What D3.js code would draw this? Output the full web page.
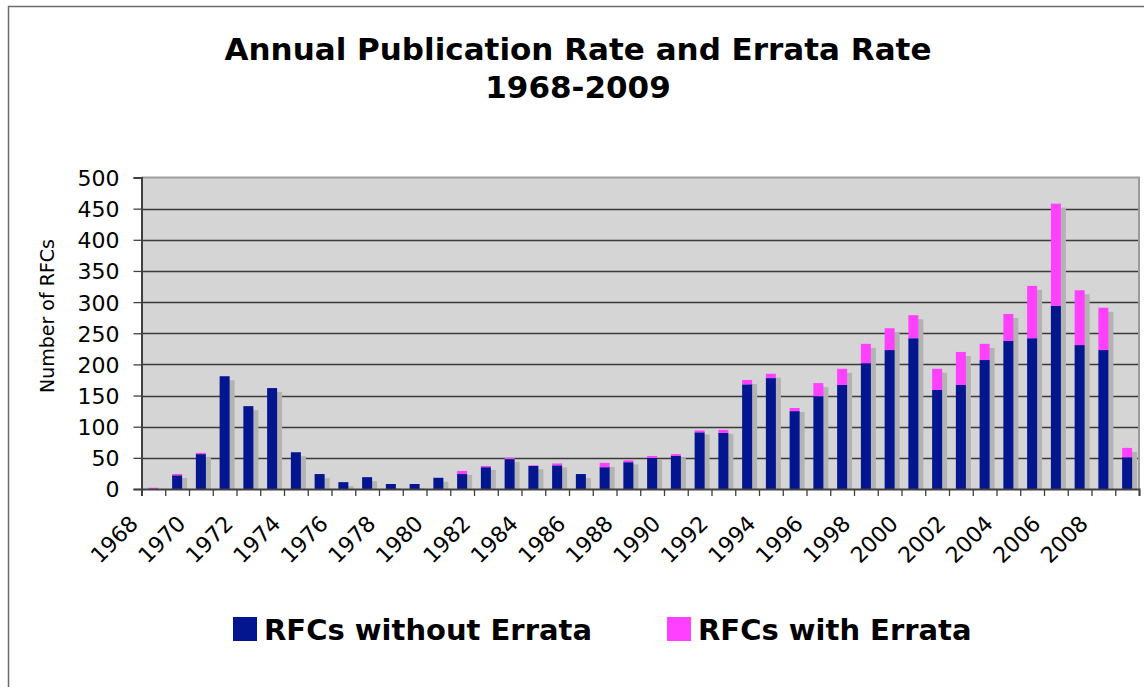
<!DOCTYPE html>
<html lang="en">
<head>
<meta charset="utf-8">
<script src="https://cdnjs.cloudflare.com/ajax/libs/d3/7.8.5/d3.min.js"></script>
<style>
  body { margin: 0; background: #fff; }
  text { font-family: "DejaVu Sans", Verdana, sans-serif; }
</style>
</head>
<body>
<script>

// RFCs per year, split into those without and with errata
var years = [1968, 1969, 1970, 1971, 1972, 1973, 1974, 1975, 1976, 1977,
             1978, 1979, 1980, 1981, 1982, 1983, 1984, 1985, 1986, 1987,
             1988, 1989, 1990, 1991, 1992, 1993, 1994, 1995, 1996, 1997,
             1998, 1999, 2000, 2001, 2002, 2003, 2004, 2005, 2006, 2007,
             2008, 2009];
var withoutErrata = [0, 22, 56, 181, 133, 162, 59, 24, 11, 19,
                     8, 8, 18, 24, 35, 48, 37, 38, 24, 35,
                     43, 50, 53, 91, 90, 168, 178, 125, 149, 167,
                     202, 223, 242, 159, 167, 207, 238, 242, 294, 231,
                     223, 51];
var withErrata = [2, 2, 2, 0, 0, 0, 0, 0, 0, 0,
                  0, 0, 0, 5, 2, 2, 1, 3, 0, 7,
                  3, 3, 3, 3, 5, 7, 7, 5, 21, 26,
                  31, 35, 37, 34, 53, 26, 43, 84, 164, 88,
                  68, 15];
var yTicks = [0, 50, 100, 150, 200, 250, 300, 350, 400, 450, 500];
var seriesNames = ["RFCs without Errata", "RFCs with Errata"];
var colors = ["#041590", "#ff40ff"];

var W = 1144, H = 687;
var plot = {left: 141.5, right: 1139, top: 177.5, bottom: 489};

var svg = d3.select("body").append("svg")
    .attr("width", W)
    .attr("height", H);

// chart frame
svg.append("rect")
    .attr("x", 8.5).attr("y", 6.5)
    .attr("width", W + 20).attr("height", H + 20)
    .attr("fill", "#fff")
    .attr("stroke", "#6a6a6a")
    .attr("stroke-width", 1.5);

// title
var title = svg.append("text")
    .attr("text-anchor", "middle")
    .style("font-weight", "bold")
    .style("font-size", "31px");
title.append("tspan").attr("x", 578).attr("y", 60).text("Annual Publication Rate and Errata Rate");
title.append("tspan").attr("x", 578).attr("y", 98).text("1968-2009");

var x = d3.scaleBand()
    .domain(years)
    .range([plot.left, plot.right])
    .padding(0);

// boundaries between categories, for the tick marks
var xEdge = d3.scaleLinear()
    .domain([0, years.length])
    .range([plot.left, plot.right]);

var y = d3.scaleLinear()
    .domain([0, 500])
    .range([plot.bottom, plot.top]);

var data = years.map(function(yr, i) {
  return {year: yr, without: withoutErrata[i], with: withErrata[i]};
});
var stack = d3.stack().keys(["without", "with"]);
var layers = stack(data);

// plot background
svg.append("rect")
    .attr("x", plot.left).attr("y", plot.top)
    .attr("width", plot.right - plot.left)
    .attr("height", plot.bottom - plot.top)
    .attr("fill", "#d5d5d5");

// gridlines
svg.append("g")
    .selectAll("line")
    .data(yTicks.slice(1, -1))
    .enter().append("line")
    .attr("x1", plot.left).attr("x2", plot.right)
    .attr("y1", function(d) { return Math.round(y(d)) + 0.5; })
    .attr("y2", function(d) { return Math.round(y(d)) + 0.5; })
    .attr("stroke", "#3a3a3a")
    .attr("stroke-width", 1.3);

svg.append("defs").append("clipPath")
    .attr("id", "clip")
  .append("rect")
    .attr("x", plot.left).attr("y", plot.top)
    .attr("width", plot.right - plot.left)
    .attr("height", plot.bottom - plot.top);

var barW = 10;
var barOff = (x.bandwidth() - barW) / 2;

// drop shadows behind the stacked bars
svg.append("g")
    .attr("clip-path", "url(#clip)")
    .selectAll("rect")
    .data(data)
    .enter().append("rect")
    .attr("x", function(d) { return x(d.year) + barOff + 5; })
    .attr("y", function(d) { return y(d.without + d.with) + 4; })
    .attr("width", barW)
    .attr("height", function(d) { return plot.bottom - y(d.without + d.with); })
    .attr("fill", "#b3b3b3");

// stacked bars
svg.append("g")
    .selectAll("g")
    .data(layers)
    .enter().append("g")
    .attr("fill", function(d, i) { return colors[i]; })
  .selectAll("rect")
    .data(function(d) { return d; })
    .enter().append("rect")
    .attr("x", function(d) { return x(d.data.year) + barOff; })
    .attr("y", function(d) { return y(d[1]); })
    .attr("width", barW)
    .attr("height", function(d) { return y(d[0]) - y(d[1]); });

// plot border (top, right)
svg.append("path")
    .attr("d", "M" + plot.left + "," + plot.top + "H" + plot.right + "V" + plot.bottom)
    .attr("fill", "none")
    .attr("stroke", "#9c9c9c")
    .attr("stroke-width", 2);

// y axis
var yAxis = d3.axisLeft(y)
    .tickValues(yTicks)
    .tickSize(8)
    .tickPadding(14);
var gy = svg.append("g")
    .attr("transform", "translate(" + plot.left + ",0)")
    .call(yAxis);
gy.select(".domain").attr("stroke", "#404040").attr("stroke-width", 2);
gy.selectAll(".tick line").attr("stroke", "#404040").attr("stroke-width", 1.3);
gy.selectAll(".tick text")
    .style("font-size", "22px")
    .attr("fill", "#000")
    .attr("dy", "0.36em");

svg.append("text")
    .attr("transform", "translate(54,316) rotate(-90)")
    .attr("text-anchor", "middle")
    .style("font-size", "19px")
    .text("Number of RFCs");

// x axis: tick marks between categories
var xAxis = d3.axisBottom(xEdge)
    .tickValues(d3.range(years.length + 1))
    .tickSize(7)
    .tickFormat("");
var gx = svg.append("g")
    .attr("transform", "translate(0," + plot.bottom + ")")
    .call(xAxis);
gx.select(".domain").attr("stroke", "#404040").attr("stroke-width", 2);
gx.selectAll(".tick line").attr("stroke", "#404040").attr("stroke-width", 1.3);

// rotated year labels, every second year
svg.append("g")
    .selectAll("text")
    .data(years.filter(function(d, i) { return i % 2 === 0; }))
    .enter().append("text")
    .attr("transform", function(d) {
      return "translate(" + (x(d) - 2) + ",525) rotate(-45)";
    })
    .attr("text-anchor", "end")
    .style("font-size", "22px")
    .text(function(d) { return d; });

// legend
var legendX = [233, 667];
var lg = svg.append("g")
    .selectAll("g")
    .data(seriesNames)
    .enter().append("g")
    .attr("transform", function(d, i) { return "translate(" + legendX[i] + ",617)"; });
lg.append("rect")
    .attr("width", 24).attr("height", 24)
    .attr("fill", function(d, i) { return colors[i]; });
lg.append("text")
    .attr("x", 31).attr("y", 23)
    .style("font-size", "29px")
    .style("font-weight", "bold")
    .text(function(d) { return d; });

</script>
</body>
</html>
